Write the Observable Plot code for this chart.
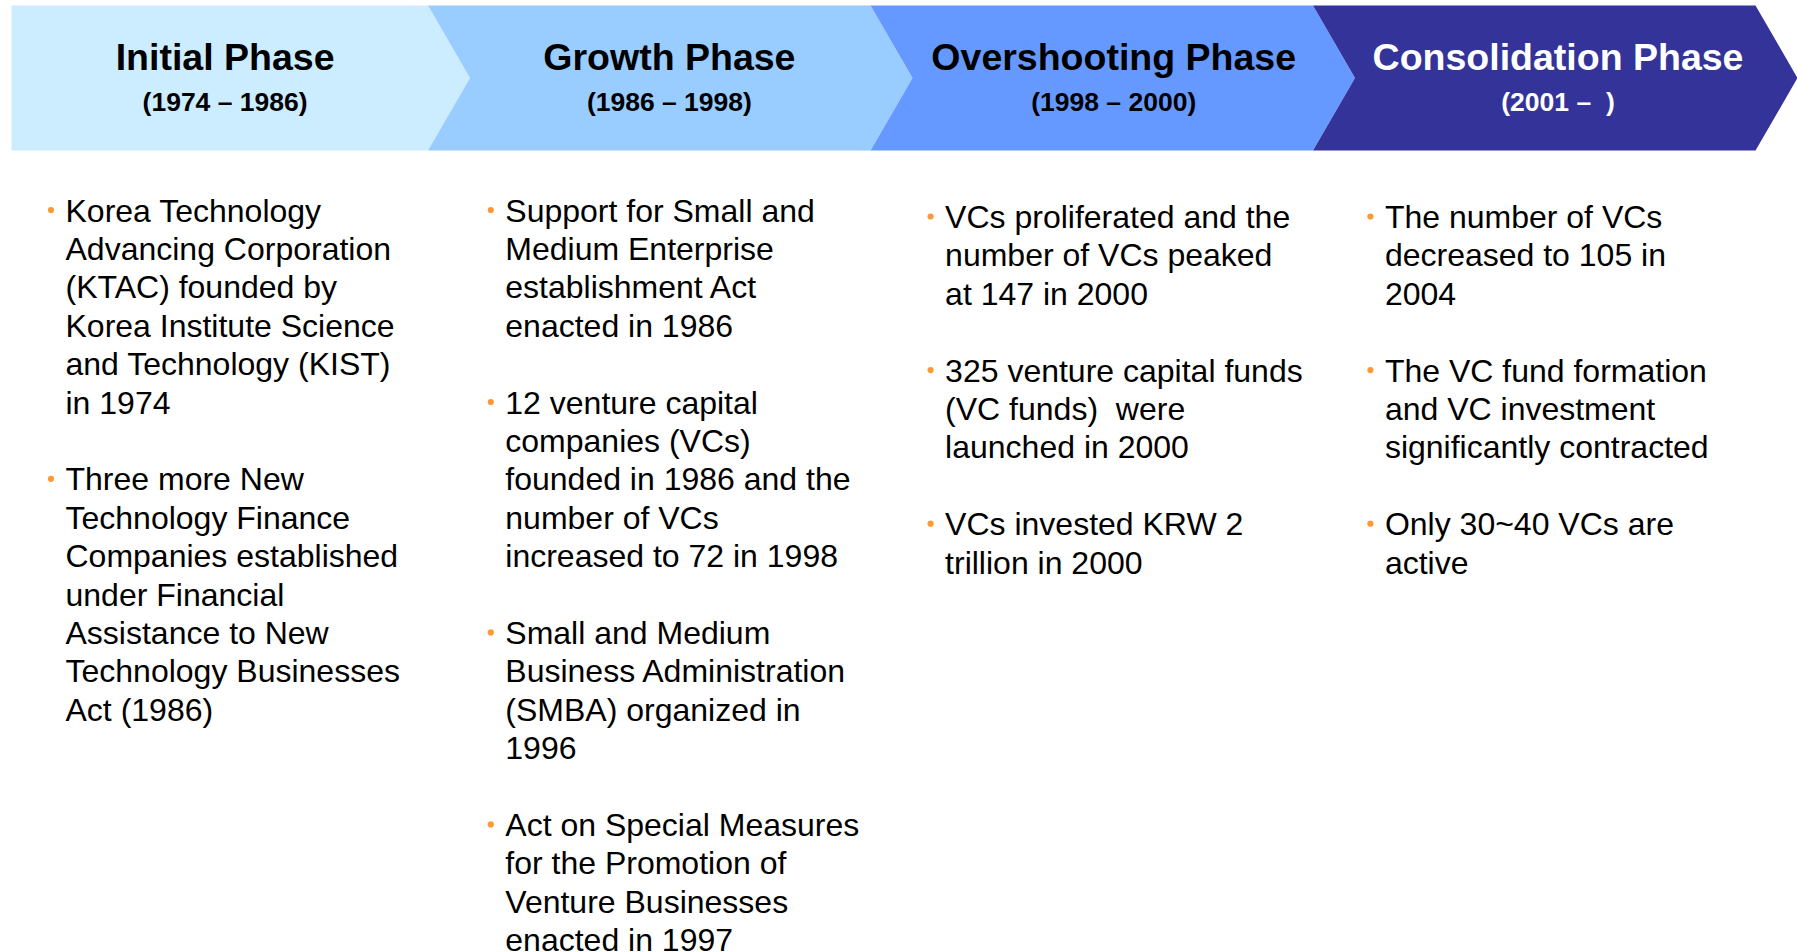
<!DOCTYPE html>
<html>
<head>
<meta charset="utf-8">
<script src="https://cdn.jsdelivr.net/npm/d3@7"></script>
<script src="https://cdn.jsdelivr.net/npm/@observablehq/plot@0.6"></script>
<style>
  html, body { margin: 0; padding: 0; background: #ffffff; }
  #chart svg { display: block; }
</style>
</head>
<body>
<div id="chart"></div>
<script>
// ---------------- data ----------------
const phases = ["Initial Phase", "Growth Phase", "Overshooting Phase", "Consolidation Phase"];
const periods = ["(1974 – 1986)", "(1986 – 1998)", "(1998 – 2000)", "(2001 –  )"];
const phaseColors = ["#CCECFF", "#99CCFF", "#6699FF", "#333399"];
const titleColors = ["#000000", "#000000", "#000000", "#FFFFFF"];

const bulletsInitial = [
  "Korea Technology\nAdvancing Corporation\n(KTAC) founded by\nKorea Institute Science\nand Technology (KIST)\nin 1974",
  "Three more New\nTechnology Finance\nCompanies established\nunder Financial\nAssistance to New\nTechnology Businesses\nAct (1986)"
];
const bulletsGrowth = [
  "Support for Small and\nMedium Enterprise\nestablishment Act\nenacted in 1986",
  "12 venture capital\ncompanies (VCs)\nfounded in 1986 and the\nnumber of VCs\nincreased to 72 in 1998",
  "Small and Medium\nBusiness Administration\n(SMBA) organized in\n1996",
  "Act on Special Measures\nfor the Promotion of\nVenture Businesses\nenacted in 1997"
];
const bulletsOvershooting = [
  "VCs proliferated and the\nnumber of VCs peaked\nat 147 in 2000",
  "325 venture capital funds\n(VC funds)  were\nlaunched in 2000",
  "VCs invested KRW 2\ntrillion in 2000"
];
const bulletsConsolidation = [
  "The number of VCs\ndecreased to 105 in\n2004",
  "The VC fund formation\nand VC investment\nsignificantly contracted",
  "Only 30~40 VCs are\nactive"
];
const bulletsByPhase = [bulletsInitial, bulletsGrowth, bulletsOvershooting, bulletsConsolidation];

// ---------------- layout (in scale units) ----------------
const W = 1797, H = 952;
const LH = 38.4;                 // one text line = 1 y-unit
const UNIT_X = 442.5;            // one phase = 1 x-unit
const DEPTH = 42 / UNIT_X;       // chevron arrow depth
const FIRST_LEFT = 26 / UNIT_X;  // flat left edge of the first chevron
const Y_TOP = 5 / LH, Y_BOT = 150 / LH, Y_MID = (Y_TOP + Y_BOT) / 2;
const Y_TITLE = 69 / LH, Y_PERIOD = 110.5 / LH;
const TITLE_OFF = 239.6 / UNIT_X, TITLE_STEP = 444.3 / UNIT_X;
const TEXT_OFF = 80 / UNIT_X, TEXT_STEP = 439.8 / UNIT_X;
const TEXT_Y0 = [221 / LH, 221 / LH, 227.5 / LH, 227.5 / LH];

// chevron outlines
const chevrons = phases.map((p, i) => {
  const left = i === 0 ? FIRST_LEFT : i;
  const pts = [
    {x: left, y: Y_TOP},
    {x: i + 1, y: Y_TOP},
    {x: i + 1 + DEPTH, y: Y_MID},
    {x: i + 1, y: Y_BOT},
    {x: left, y: Y_BOT}
  ];
  if (i > 0) pts.push({x: i + DEPTH, y: Y_MID});
  return pts;
});

// header labels
const headers = phases.map((p, i) => ({i, phase: p, period: periods[i], color: titleColors[i]}));

// body lines + bullets
const lines = [];
const dots = [];
bulletsByPhase.forEach((list, col) => {
  let row = 0;
  list.forEach((b) => {
    const parts = b.split("\n");
    dots.push({col, row});
    parts.forEach((t) => { lines.push({col, row, text: t}); row++; });
    row++; // blank line between bullets
  });
});
const colX = (c) => c * TEXT_STEP + TEXT_OFF;
const rowY = (c, r) => TEXT_Y0[c] + r;
const headX = (i) => i * TITLE_STEP + TITLE_OFF;

const marks = [];
chevrons.forEach((pts, i) => {
  marks.push(Plot.line(pts, {x: "x", y: "y", fill: phaseColors[i], stroke: "none", curve: "linear-closed"}));
});
marks.push(
  Plot.text(headers, {
    x: (d) => headX(d.i), y: () => Y_TITLE, text: "phase", fill: "color",
    fontSize: 37.5, fontWeight: "bold", textAnchor: "middle", lineAnchor: "bottom"
  }),
  Plot.text(headers, {
    x: (d) => headX(d.i), y: () => Y_PERIOD, text: "period", fill: "color",
    fontSize: 26.5, fontWeight: "bold", textAnchor: "middle", lineAnchor: "bottom"
  }),
  Plot.dot(dots, {
    x: (d) => colX(d.col), y: (d) => rowY(d.col, d.row), r: 3.1, dx: -14.5, dy: -11.5,
    fill: "#FF9933", stroke: "none"
  }),
  Plot.text(lines, {
    x: (d) => colX(d.col), y: (d) => rowY(d.col, d.row), text: "text", fill: "#000000",
    fontSize: 32, textAnchor: "start", lineAnchor: "bottom"
  })
);

const chart = Plot.plot({
  width: W,
  height: H,
  margin: 0,
  style: {fontFamily: "'Liberation Sans', Arial, sans-serif", background: "#ffffff", overflow: "hidden"},
  x: {type: "linear", domain: [0, 4], range: [-15, 1755], axis: null},
  y: {type: "linear", domain: [0, H / LH], range: [0, H], axis: null},
  color: {type: "identity"},
  marks
});
document.getElementById("chart").appendChild(chart);
</script>
</body>
</html>
